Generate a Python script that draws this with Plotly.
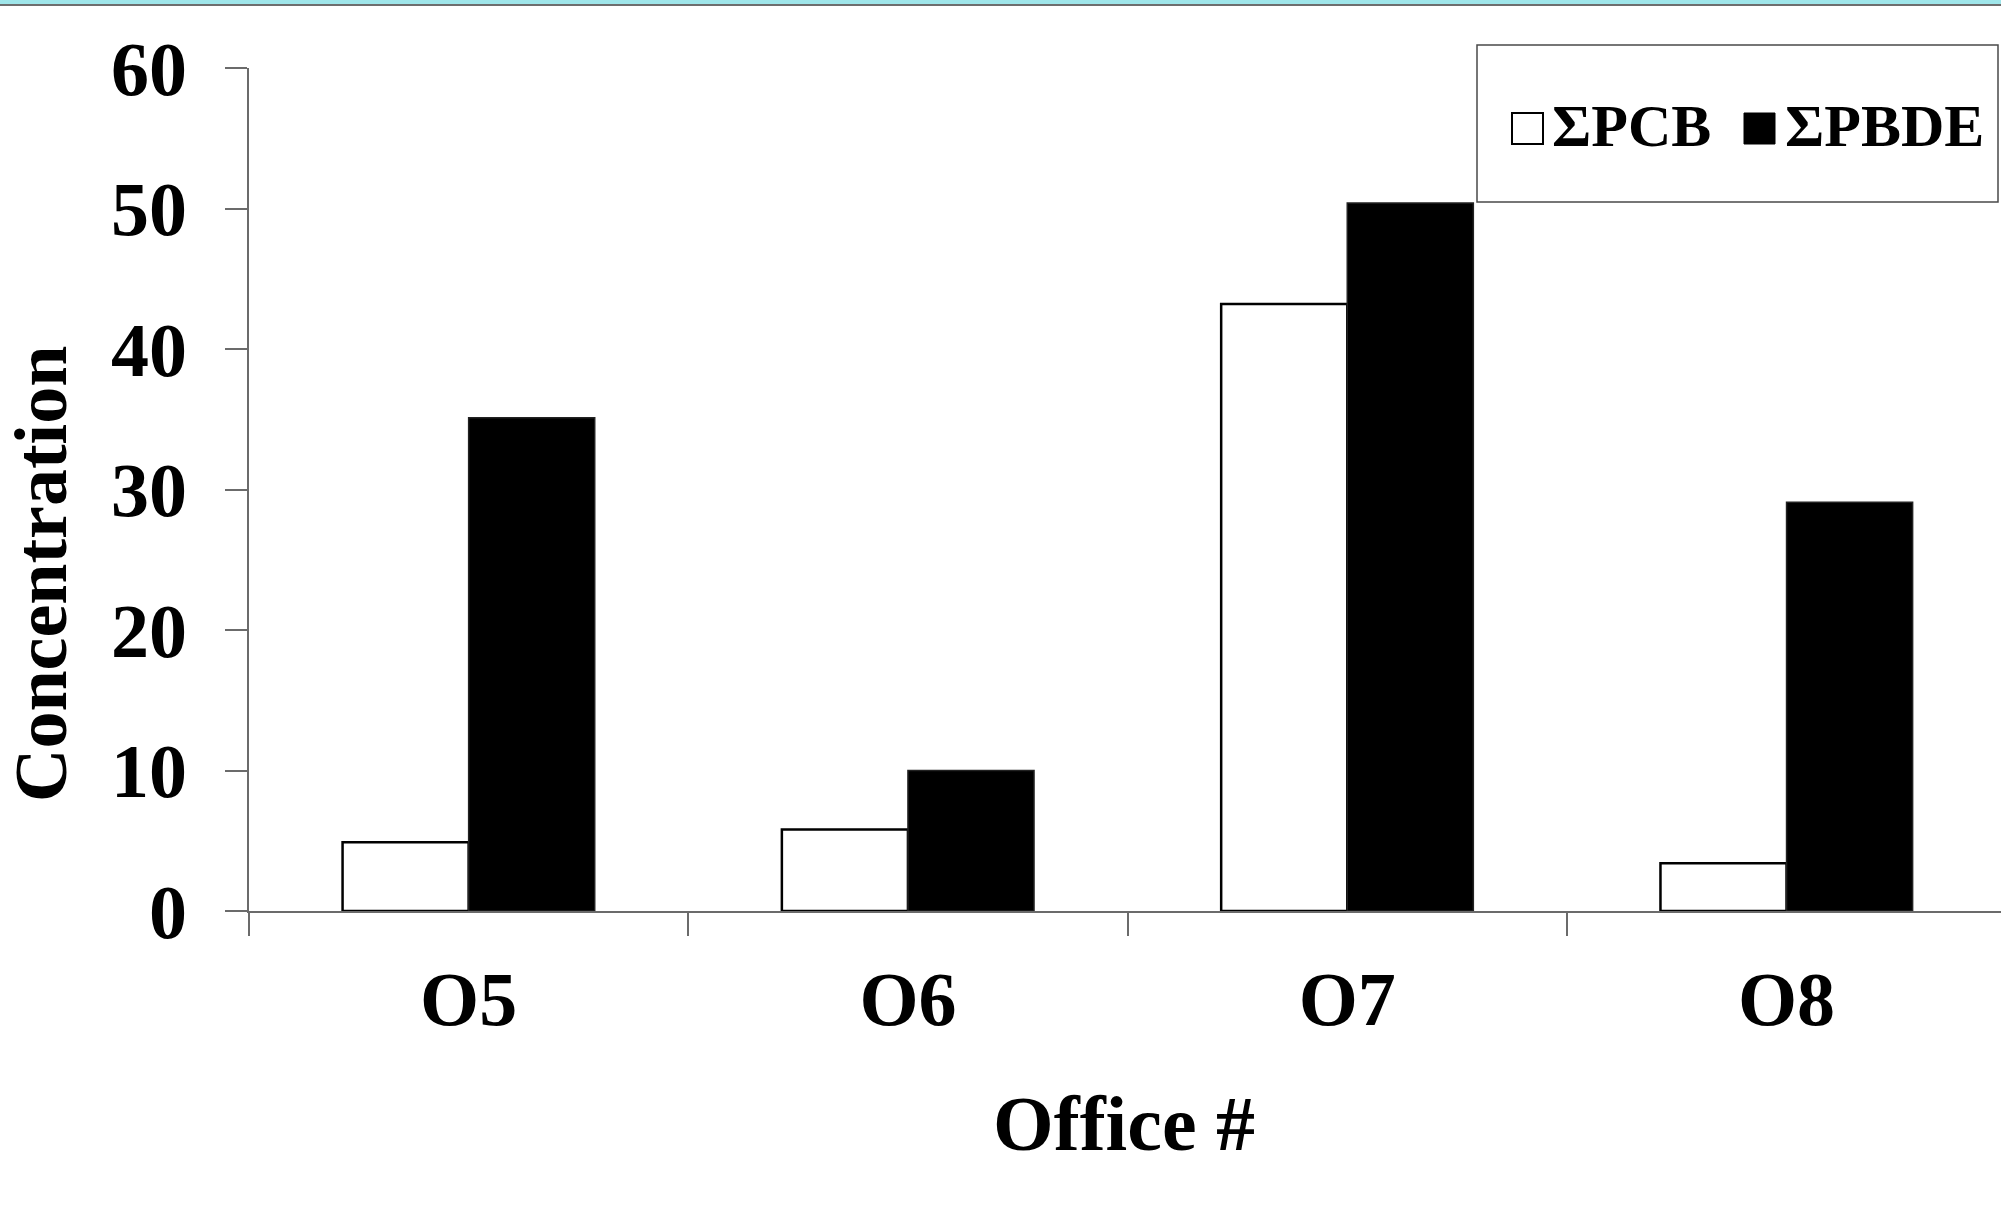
import plotly.graph_objects as go

# Concentrations per office
offices = ["O5", "O6", "O7", "O8"]
pcb_values = [4.9, 5.8, 43.2, 3.4]
pbde_values = [35.1, 10.0, 50.4, 29.1]
y_ticks = [0, 10, 20, 30, 40, 50, 60]

W, H = 2001, 1215
L, R, T, B = 249, 0, 68, 304
PW, PH = W - L - R, H - T - B
CAT_PX = 439.3  # pixel width of one category slot

FONT = "Liberation Serif, Times New Roman, serif"
AXIS_GRAY = "#6b6b6b"


def px_x(p):
    return (p - L) / PW


def px_y(p):
    return (H - B - p) / PH


fig = go.Figure()
fig.add_trace(go.Bar(
    name="ΣPCB", x=offices, y=pcb_values,
    marker=dict(color="white", line=dict(color="black", width=2.5)),
    showlegend=False,
))
fig.add_trace(go.Bar(
    name="ΣPBDE", x=offices, y=pbde_values,
    marker=dict(color="black", line=dict(color="#222222", width=1.5)),
    showlegend=False,
))

shapes = [
    # banner strip across the top edge
    dict(type="rect", xref="paper", yref="paper",
         x0=px_x(0), x1=px_x(W), y0=px_y(4), y1=px_y(0),
         fillcolor="#9fe6ea", line=dict(width=0), layer="above"),
    dict(type="line", xref="paper", yref="paper",
         x0=px_x(0), x1=px_x(W), y0=px_y(5), y1=px_y(5),
         line=dict(color="#6e6e6e", width=2), layer="above"),
    # legend frame and swatches
    dict(type="rect", xref="paper", yref="paper",
         x0=px_x(1477), x1=px_x(1998), y0=px_y(202), y1=px_y(45),
         fillcolor="white", line=dict(color="#4a4a4a", width=1.5), layer="above"),
    dict(type="rect", xref="paper", yref="paper",
         x0=px_x(1512), x1=px_x(1543), y0=px_y(144), y1=px_y(113),
         fillcolor="white", line=dict(color="black", width=2), layer="above"),
    dict(type="rect", xref="paper", yref="paper",
         x0=px_x(1744), x1=px_x(1775), y0=px_y(144), y1=px_y(113),
         fillcolor="black", line=dict(color="black", width=1), layer="above"),
]

annotations = [
    dict(text="<b>ΣPCB</b>", xref="paper", yref="paper",
         x=px_x(1550), y=px_y(126), xanchor="left", yanchor="middle",
         showarrow=False, font=dict(family=FONT, size=60, color="black")),
    dict(text="<b>ΣPBDE</b>", xref="paper", yref="paper",
         x=px_x(1783), y=px_y(126), xanchor="left", yanchor="middle",
         showarrow=False, font=dict(family=FONT, size=60, color="black")),
    dict(text="<b>Concentration</b>", xref="paper", yref="paper",
         x=px_x(41), y=px_y(574), xanchor="center", yanchor="middle",
         textangle=-90, showarrow=False,
         font=dict(family=FONT, size=74, color="black")),
    dict(text="<b>Office #</b>", xref="paper", yref="paper",
         x=px_x(1124), y=px_y(1123), xanchor="center", yanchor="middle",
         showarrow=False, font=dict(family=FONT, size=78, color="black")),
]

fig.update_layout(
    width=W, height=H,
    margin=dict(l=L, r=R, t=T, b=B, pad=0),
    paper_bgcolor="white", plot_bgcolor="white",
    barmode="group", bargap=0.426, bargroupgap=0,
    shapes=shapes, annotations=annotations,
    showlegend=False,
    xaxis=dict(
        type="category", range=[-0.5, -0.5 + PW / CAT_PX],
        tickson="boundaries", ticks="outside", ticklen=23,
        tickwidth=1.5, tickcolor=AXIS_GRAY,
        showline=True, linecolor=AXIS_GRAY, linewidth=1.5,
        showgrid=False, zeroline=False, automargin=False,
        tickfont=dict(family=FONT, size=76, color="black", weight="bold"),
        ticklabelstandoff=21,
    ),
    yaxis=dict(
        range=[0, 60], tickvals=y_ticks, ticktext=[str(v) for v in y_ticks],
        ticks="outside", ticklen=22, tickwidth=1.5, tickcolor=AXIS_GRAY,
        showline=True, linecolor=AXIS_GRAY, linewidth=1.5,
        showgrid=False, zeroline=False, automargin=False,
        tickfont=dict(family=FONT, size=76, color="black", weight="bold"),
        ticklabelstandoff=23,
    ),
)

fig.write_html("out.html")
